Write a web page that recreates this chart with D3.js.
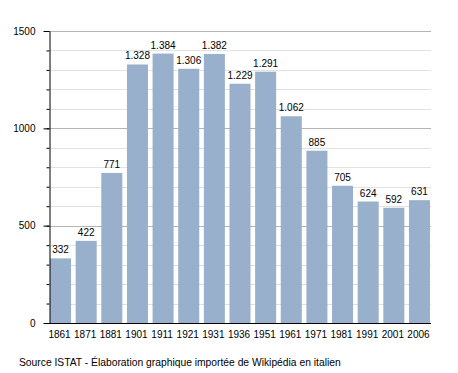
<!DOCTYPE html>
<html><head><meta charset="utf-8">
<script src="https://cdn.jsdelivr.net/npm/d3@7"></script>
<style>
body{margin:0;background:#fff;}
text{font-family:"Liberation Sans",Arial,sans-serif;}
</style></head>
<body>
<svg id="c" width="458" height="373"></svg>
<script>
const years = ["1861","1871","1881","1901","1911","1921","1931","1936","1951","1961","1971","1981","1991","2001","2006"];
const population = [332,422,771,1328,1384,1306,1382,1229,1291,1062,885,705,624,592,631];
const majorTicks = [0,500,1000,1500];
const minorTicks = d3.range(0,1501,100);
const sourceNote = "Source ISTAT - Élaboration graphique importée de Wikipédia en italien";

const svg = d3.select("#c");
const x = d3.scaleBand().domain(years).range([49,431]).paddingInner(0.18).paddingOuter(0.04);
const y = d3.scaleLinear().domain([0,1500]).range([323,31]);

// gridlines
svg.append("g").selectAll("line").data(minorTicks.filter(v=>v%500!==0)).join("line")
  .attr("x1",50).attr("x2",431).attr("y1",d=>Math.round(y(d))+0.5).attr("y2",d=>Math.round(y(d))+0.5)
  .attr("stroke","#e2e2e2").attr("stroke-width",1);
svg.append("g").selectAll("line").data(majorTicks.filter(v=>v>0)).join("line")
  .attr("x1",50).attr("x2",431).attr("y1",d=>Math.round(y(d))+0.5).attr("y2",d=>Math.round(y(d))+0.5)
  .attr("stroke","#b4b4b4").attr("stroke-width",1);

// bars
svg.append("g").selectAll("rect").data(years).join("rect")
  .attr("x",d=>x(d)).attr("width",x.bandwidth())
  .attr("y",(d,i)=>y(population[i])).attr("height",(d,i)=>y(0)-y(population[i]))
  .attr("fill","#98b0cb");

// value labels
const fmt = d3.formatLocale({decimal:",",thousands:".",grouping:[3],currency:["","€"]}).format(",d");
svg.append("g").selectAll("text").data(years).join("text")
  .attr("x",d=>x(d)+x.bandwidth()/2).attr("y",(d,i)=>y(population[i])-5)
  .attr("text-anchor","middle").attr("font-size",10).attr("fill","#000")
  .text((d,i)=>fmt(population[i]));

// y axis
const yMinor = svg.append("g").attr("transform","translate(49.5,0)")
  .call(d3.axisLeft(y).tickValues(minorTicks).tickSize(3).tickFormat(""));
yMinor.select(".domain").remove();
const yAx = svg.append("g").attr("transform","translate(49.5,0)")
  .call(d3.axisLeft(y).tickValues(majorTicks).tickSize(6).tickPadding(8).tickSizeOuter(0).tickFormat(d3.format("d")));
yAx.selectAll("text").attr("font-size",10).attr("font-family","Liberation Sans, Arial, sans-serif").attr("fill","#000");
svg.selectAll(".tick line").attr("stroke","#000");
yAx.select(".domain").attr("stroke","#000");

// x axis
const xAx = svg.append("g").attr("transform","translate(0,323.5)")
  .call(d3.axisBottom(x).tickSize(0).tickPadding(7).tickSizeOuter(0));
xAx.select(".domain").attr("stroke","#000").attr("d","M49,0H431");
xAx.selectAll("text").attr("font-size",10).attr("font-family","Liberation Sans, Arial, sans-serif").attr("fill","#000").attr("dx",-1);

// source note
svg.append("text").attr("x",19).attr("y",366).attr("font-size",10.3).attr("fill","#000").text(sourceNote);
</script>
</body></html>
